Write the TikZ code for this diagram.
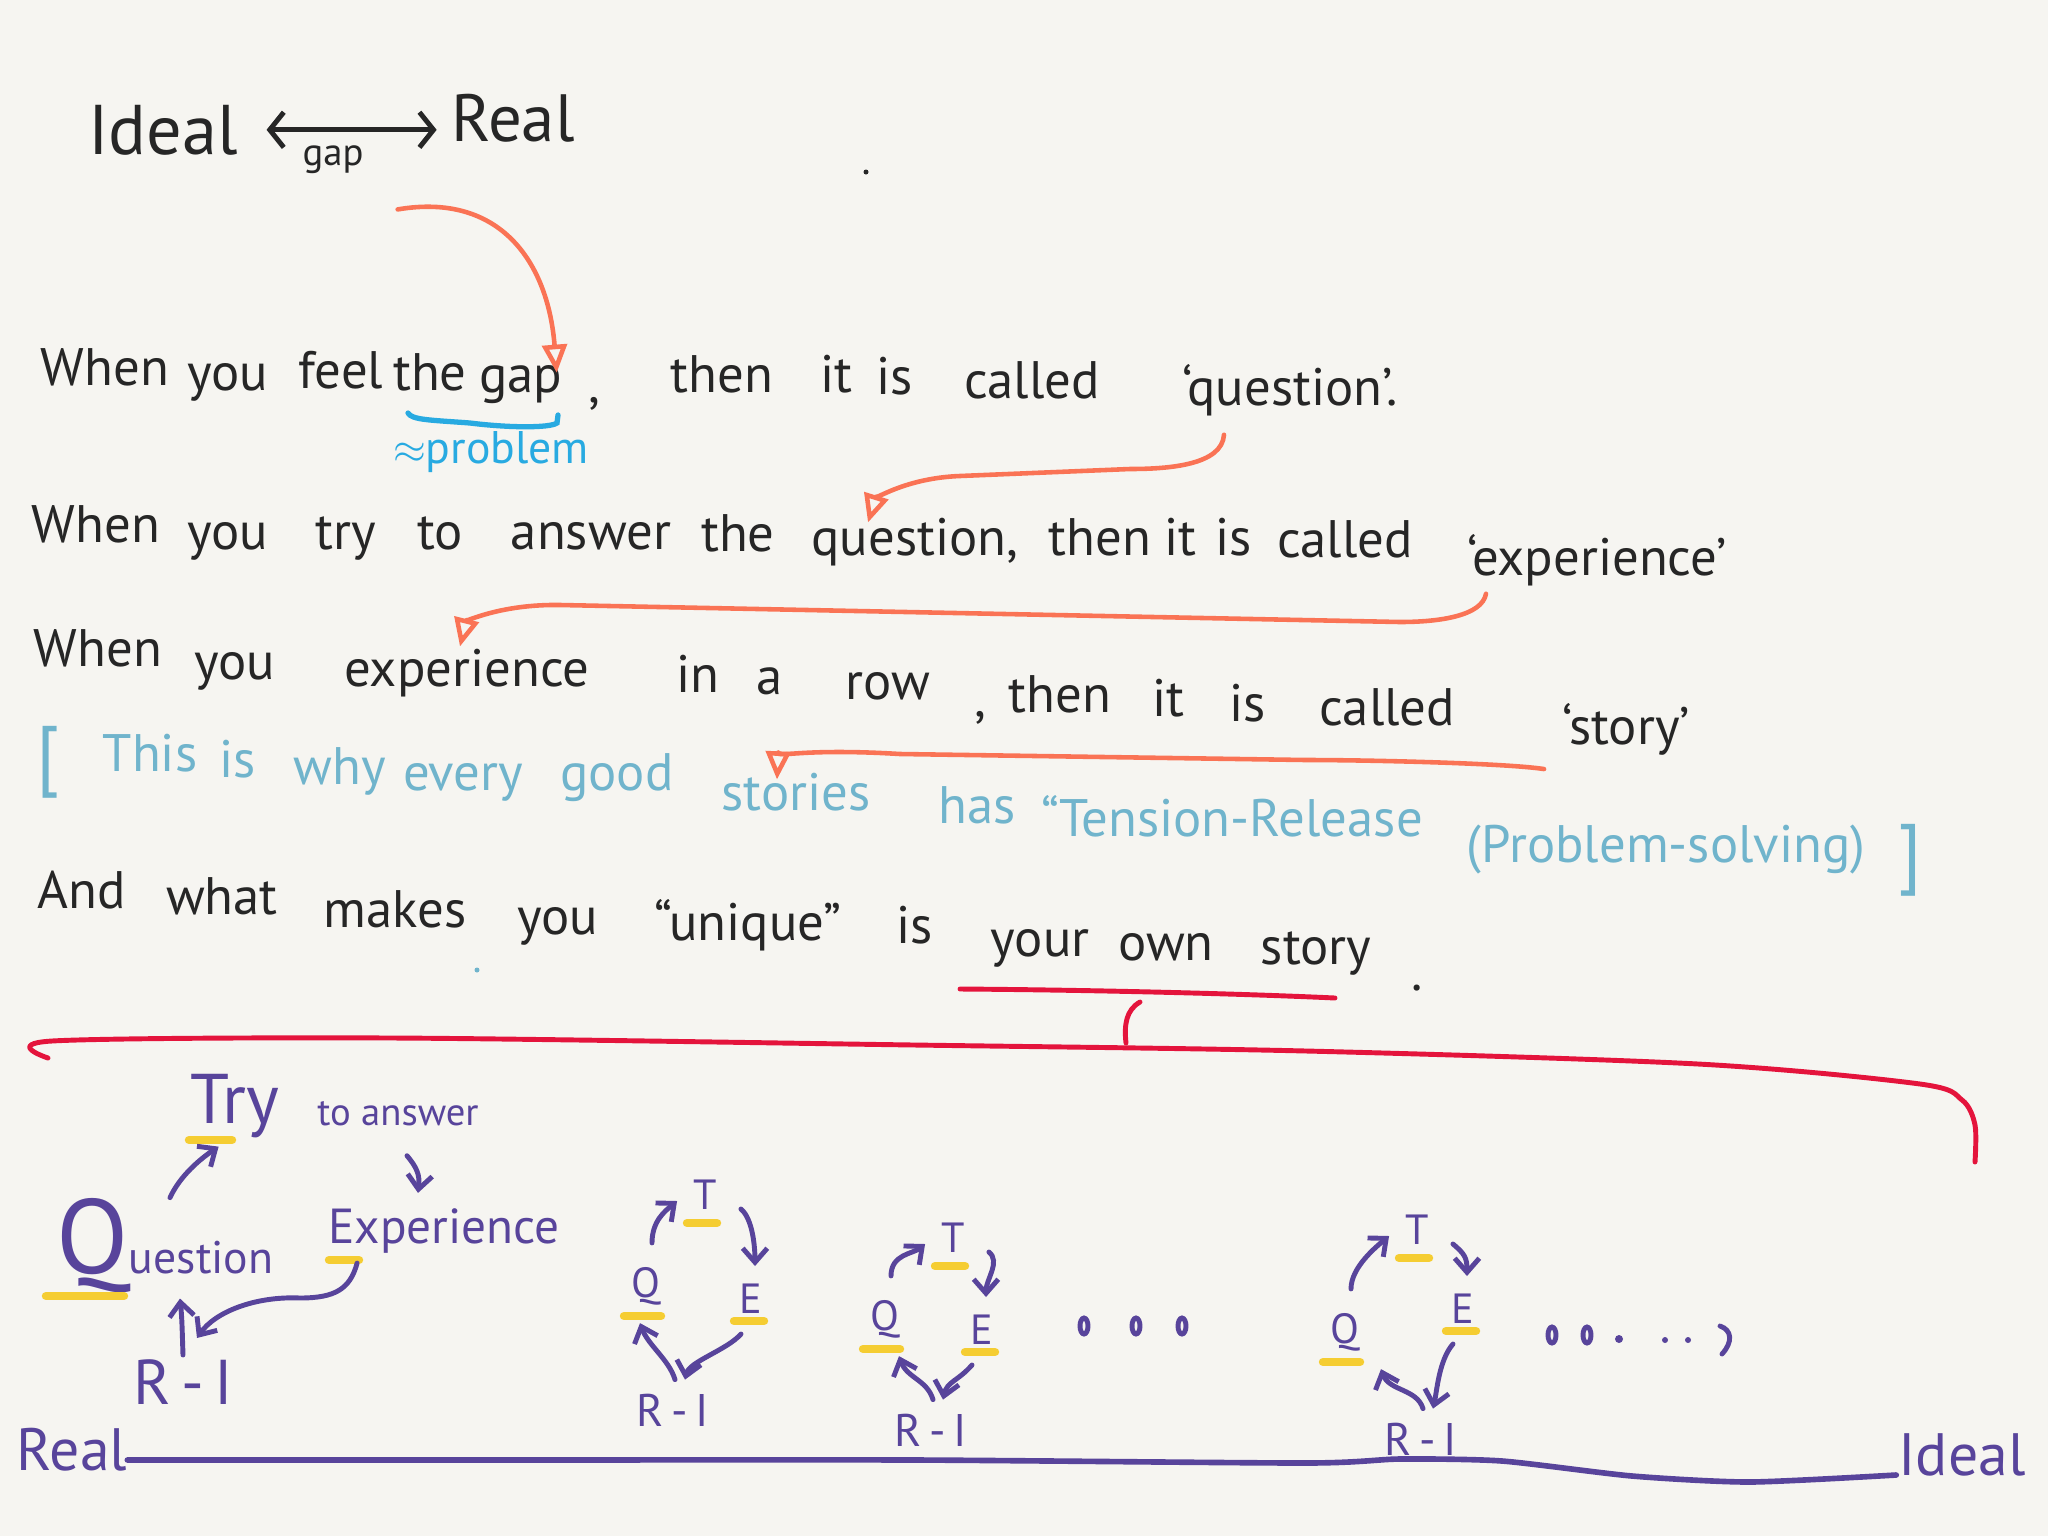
\documentclass[tikz,border=0pt]{standalone}
\usepackage{fontspec}
\setmainfont{PT Sans}
\usetikzlibrary{arrows.meta, positioning, calc}
\definecolor{paper}{RGB}{246,245,241}
\definecolor{ink}{RGB}{38,38,38}
\definecolor{notecyan}{RGB}{40,170,225}
\definecolor{noteblue}{RGB}{112,180,204}
\definecolor{penorange}{RGB}{250,115,85}
\definecolor{penred}{RGB}{228,20,60}
\definecolor{penpurple}{RGB}{88,68,155}
\definecolor{penyellow}{RGB}{245,205,50}
\tikzset{
  word/.style={anchor=base, inner sep=1pt, text=ink, font=\fontsize{15}{18}\selectfont},
  noteword/.style={word, text=noteblue, font=\fontsize{15}{18}\selectfont},
  penword/.style={anchor=base, inner sep=1pt, text=penpurple},
  cyc/.style={inner sep=1pt, text=penpurple, font=\fontsize{12}{14}\selectfont},
  orarrow/.style={draw=penorange, line width=1.3pt, line cap=round, -{Triangle[open, length=8pt, width=7pt]}},
  parrow/.style={draw=penpurple, line width=1.4pt, line cap=round, -{Straight Barb[length=4pt, width=7pt]}},
  yline/.style={draw=penyellow, line width=2.4pt, line cap=round},
}
\begin{document}
\begin{tikzpicture}[x=0.01cm, y=-0.01cm]
  \fill[paper] (0,0) rectangle (2048,1536);
  \useasboundingbox (0,0) rectangle (2048,1536);

  % Ideal <-> Real
  \node[word, font=\fontsize{20}{24}\selectfont] (topideal) at (163,154) {Ideal};
  \node[word, font=\fontsize{19}{23}\selectfont] (topreal) at (513,141) {Real};
  \node[word, font=\fontsize{11}{13}\selectfont] (gaptop) at (333,165) {gap};
  \draw[ink, line width=1.4pt, line cap=round, {Straight Barb[length=4pt,width=10pt]}-{Straight Barb[length=4pt,width=10pt]}, shorten <=7pt, shorten >=3pt] (topideal.east) -- (topideal.east -| topreal.west);
  \fill[ink] (866,172) circle (2.5);

  % the five lines
  \foreach \nm/\x/\y/\w in {w1a/105/385/When, w1b/228/390/you, w1c/341/388/feel, w1d/430/390/the, w1e/521/392/gap, w1f/594/402/{,}, w1g/722/392/then, w1h/836/392/it, w1i/895/394/is, w1j/1032/398/called, w1k/1290/405/{`question'.}}
    \node[word] (\nm) at (\x,\y) {\w};
  \foreach \nm/\x/\y/\w in {w2a/96/542/When, w2b/228/549/you, w2c/346/549/try, w2d/440/549/to, w2e/591/549/answer, w2f/738/551/the, w2g/915/555/{question,}, w2h/1100/555/then, w2i/1180/555/it, w2j/1234/555/is, w2k/1345/557/called, w2l/1597/575/{`experience'}}
    \node[word] (\nm) at (\x,\y) {\w};
  \foreach \nm/\x/\y/\w in {w3a/98/666/When, w3b/235/679/you, w3c/467/686/experience, w3d/698/692/in, w3e/770/694/a, w3f/888/699/row, w3g/980/716/{,}, w3h/1060/712/then, w3i/1168/716/it, w3j/1248/721/is, w3k/1387/725/called, w3l/1626/744/{`story'}}
    \node[word] (\nm) at (\x,\y) {\w};
  \foreach \nm/\x/\y/\w in {w4b/150/771/This, w4c/238/777/is, w4d/340/784/why, w4e/463/790/every, w4f/617/790/good, w4g/796/810/stories, w4h/977/823/has, w4i/1232/836/{``Tension-Release}, w4j/1666/862/{(Problem-solving)}}
    \node[noteword] (\nm) at (\x,\y) {\w};
  \node[noteword, font=\fontsize{22}{24}\selectfont] (w4a) at (48,780) {[};
  \node[noteword, font=\fontsize{22}{24}\selectfont] (w4k) at (1910,878) {]};
  \foreach \nm/\x/\y/\w in {w5a/82/908/And, w5b/222/914/what, w5c/395/927/makes, w5d/558/934/you, w5e/748/940/{``unique''}, w5f/915/943/is, w5g/1040/956/your, w5h/1166/960/own, w5i/1316/964/story, w5j/1417/990/{.}}
    \node[word] (\nm) at (\x,\y) {\w};
  \fill[noteblue] (477,970) circle (2.5);

  % blue note under the gap
  \draw[notecyan, line width=1.5pt, line cap=round] (408,413) .. controls (412,420) and (430,420) .. (470,423) .. controls (510,428) and (550,428) .. (557,423) -- (558,415);
  \node[word, text=notecyan, font=\fontsize{13}{15}\selectfont] (prob) at (491,463) {$\approx$problem};

  % orange arrows
  \draw[orarrow] ($(gaptop.south east)+(30,32)$) .. controls (500,192) and (548,262) .. ($(w1e.north east)+(-10,12)$);
  \draw[orarrow] ($(w1k.south)+(-66,15)$) .. controls +(-2,30) and +(40,0) .. (1130,469) -- (960,476) .. controls (905,478) and (875,500) .. ($(w2g.north)+(-47,9)$);
  \draw[orarrow] ($(w2l.south)+(-111,4)$) .. controls +(-4,22) and +(40,0) .. (1400,622) -- (560,605) .. controls (500,604) and (466,622) .. ($(w3c.north)+(-7,2)$);
  \draw[orarrow] ($(w3l.south west)+(-14,10)$) .. controls +(-40,-6) and +(60,0) .. (1306,760) -- (900,754) .. controls (800,748) and (778,758) .. ($(w4g.north)+(-19,11)$);

  % red brace to your own story
  \draw[penred, line width=1.4pt, line cap=round] (960,989) .. controls (1100,990) and (1250,994) .. (1335,998);
  \draw[penred, line width=1.4pt, line cap=round] (1140,1002) .. controls (1126,1010) and (1124,1025) .. (1126,1043);
  \draw[penred, line width=1.4pt, line cap=round, line join=round] plot[smooth, tension=0.5] coordinates {(48,1058) (52,1041) (392,1038) (914,1045) (1306,1051) (1698,1064) (1920,1084) (1962,1100) (1975,1125) (1975,1162)};

  % first cycle
  \node[penword, font=\fontsize{20}{24}\selectfont] (try) at (235,1123) {Try};
  \node[penword, font=\fontsize{11}{13}\selectfont] (toans) at (398,1125) {to answer};
  \node[penword, font=\fontsize{13}{15}\selectfont] (quest) at (165,1273) {{\fontsize{30}{30}\selectfont Q}uestion};
  \node[penword, font=\fontsize{14}{17}\selectfont] (exp) at (444,1243) {Experience};
  \node[penword, font=\fontsize{18}{21}\selectfont] (ri1) at (183,1404) {R\,-\,I};
  \draw[yline] (189,1140) -- (232,1140);
  \draw[yline] (46,1296) -- (124,1296);
  \draw[yline] (329,1260) -- (359,1260);
  \draw[parrow] ($(quest.north)+(5,4)$) .. controls +(10,-22) and +(-18,12) .. ($(try.south west)+(32,5)$);
  \draw[parrow] ($(toans.south)+(9,26)$) .. controls +(10,12) and +(2,-18) .. ($(exp.north)+(-26,-11)$);
  \draw[parrow] ($(exp.south west)+(33,6)$) .. controls +(-7,26) and +(35,0) .. (300,1298) .. controls (255,1296) and (215,1312) .. ($(ri1.north)+(14,-17)$);
  \draw[parrow] (ri1.north) .. controls +(-1,-30) and +(2,20) .. ($(quest.south)+(15,2)$);

  % the cycles that follow
  \foreach \k/\tx/\ty/\qx/\qy/\ax/\ay/\rx/\ry/\qd in {2/705/1195/646/1286/751/1299/673/1410/-6, 3/953/1238/885/1319/982/1330/931/1430/14, 4/1417/1230/1345/1332/1463/1309/1421/1439/36} {
    \node[cyc] (t\k) at (\tx,\ty) {T};
    \node[cyc] (q\k) at (\qx,\qy) {Q};
    \node[cyc] (e\k) at (\ax,\ay) {E};
    \node[cyc, font=\fontsize{13}{15}\selectfont] (r\k) at (\rx,\ry) {R\,-\,I};
    \draw[yline] ($(t\k)+(-18,28)$) -- ++(30,0);
    \draw[yline] ($(q\k)+(-22,30)$) -- ++(37,0);
    \draw[yline] ($(e\k)+(-17,22)$) -- ++(30,0);
    \draw[parrow] ($(q\k.north)+(6,-20)$) .. controls +(0,-22) and +(-12,10) .. ($(t\k.west)+(-12,6)$);
    \draw[parrow] ($(t\k.east)+(20,14)$) .. controls +(12,10) and +(0,-18) .. ($(e\k.north)+(4,-14)$);
    \draw[parrow] ($(r\k.north)+(2,-10)$) .. controls +(-6,-20) and +(8,22) .. ($(q\k.south)+(\qd,14)$);
    \draw[parrow] ($(e\k.south)+(-10,16)$) .. controls +(-14,16) and +(4,-18) .. ($(r\k.north)+(12,-10)$);
  }

  % dots
  \foreach \x in {1084,1136,1182}
    \draw[penpurple, line width=1.4pt] (\x,1326) ellipse [x radius=4, y radius=8];
  \foreach \x in {1552,1587}
    \draw[penpurple, line width=1.4pt] (\x,1335) ellipse [x radius=4, y radius=8];
  \fill[penpurple] (1619,1339) circle (4);
  \fill[penpurple] (1665,1340) circle (3);
  \fill[penpurple] (1688,1340) circle (3);
  \draw[penpurple, line width=1.4pt, line cap=round] (1720,1326) .. controls (1732,1330) and (1733,1342) .. (1722,1354);

  % Real ---- Ideal
  \node[penword, font=\fontsize{17}{20}\selectfont] (botreal) at (72,1470) {Real};
  \node[penword, font=\fontsize{17}{20}\selectfont] (botideal) at (1962,1475) {Ideal};
  \draw[penpurple, line width=1.6pt, line cap=round] plot[smooth, tension=0.4] coordinates {($(botreal.base east)+(-4,-10)$) (500,1460) (914,1460) (1306,1463) (1400,1459) (1502,1461) (1632,1476) (1750,1482) ($(botideal.base west)+(2,0)$)};
\end{tikzpicture}
\end{document}
